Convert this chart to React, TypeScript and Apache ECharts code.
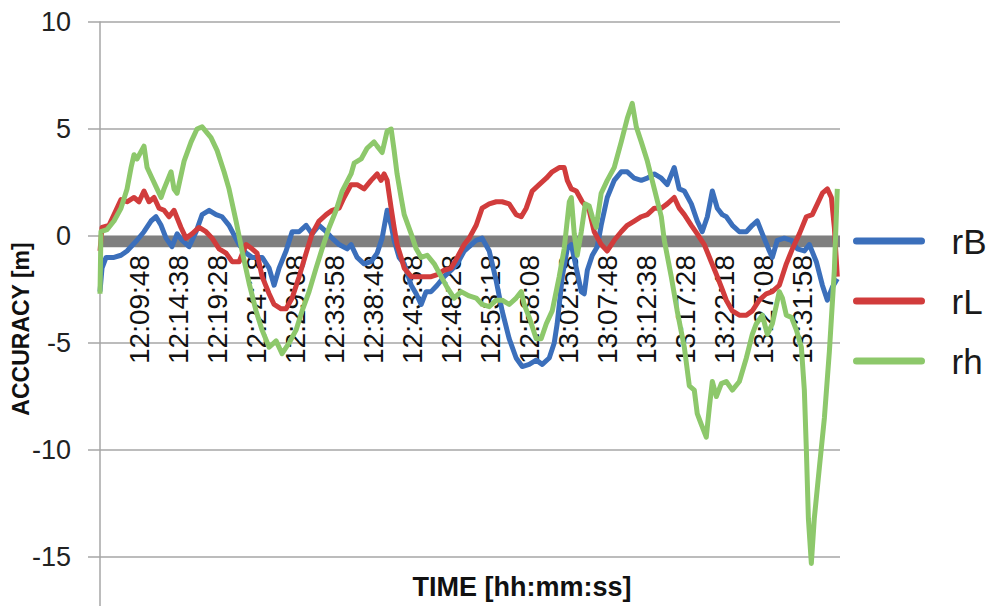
import React, { useEffect, useRef } from "react";
import * as echarts from "echarts";

// time axis: seconds after 12:04:58
const BASE_SECONDS = 12 * 3600 + 4 * 60 + 58;
const TIME_MAX = 5500;
const LABEL_STEP = 290;
const Y_MIN = -20;
const Y_MAX = 10;
const Y_TICKS = [-15, -10, -5, 0, 5, 10];
const SERIES_NAMES = ["rB", "rL", "rh"];
const SERIES_COLORS = ["#3b6fbb", "#d13c3c", "#8dc86b"];
const ZERO_BAND: [number, number] = [0, -0.52];

const rB: [number, number][] = [
  [0, -2.6], [15, -1.5], [45, -1.0], [104, -1.0], [156, -0.9], [201, -0.7], [275, -0.2],
  [327, 0.2], [379, 0.7], [416, 0.9], [454, 0.5], [491, -0.1], [535, -0.5], [573, 0.1],
  [610, -0.2], [662, -0.5], [714, 0.2], [759, 1.0], [811, 1.2], [863, 1.0], [907, 0.9],
  [959, 0.5], [1034, -0.4], [1086, -0.8], [1130, -1.0], [1205, -1.0], [1257, -1.5],
  [1294, -2.3], [1331, -1.5], [1383, -0.7], [1428, 0.2], [1480, 0.2], [1532, 0.5],
  [1576, 0.1], [1628, 0.5], [1681, 0.2], [1725, -0.1], [1777, -0.4], [1837, -0.6],
  [1866, -0.4], [1911, -1.0], [1963, -1.3], [2015, -1.2], [2060, -0.8], [2097, -0.1],
  [2134, 1.2], [2164, 0.5], [2186, -0.2], [2223, -1.0], [2261, -1.3], [2313, -2.3],
  [2350, -2.7], [2387, -3.2], [2424, -2.6], [2461, -2.6], [2506, -2.3], [2558, -1.9],
  [2610, -1.6], [2655, -1.3], [2707, -0.7], [2744, -0.5], [2796, -0.2], [2840, -0.1],
  [2893, -0.7], [2945, -2.1], [2989, -3.5], [3041, -4.8], [3093, -5.7], [3138, -6.1],
  [3190, -6.0], [3242, -5.8], [3287, -6.0], [3339, -5.7], [3376, -5.0], [3398, -4.1],
  [3436, -1.9], [3473, -0.6], [3503, -0.4], [3540, -1.5], [3577, -2.6], [3599, -2.7],
  [3622, -1.6], [3659, -0.9], [3696, -0.5], [3725, 0.5], [3770, 1.8], [3822, 2.6],
  [3874, 3.0], [3919, 3.0], [3971, 2.7], [4023, 2.6], [4068, 2.7], [4120, 2.9],
  [4172, 2.7], [4216, 2.4], [4268, 3.2], [4305, 2.2], [4343, 2.1], [4395, 1.5],
  [4439, 0.7], [4476, 0.2], [4514, 0.9], [4551, 2.1], [4588, 1.3], [4625, 1.0],
  [4655, 0.9], [4700, 0.5], [4752, 0.2], [4804, 0.2], [4848, 0.5], [4885, 0.7],
  [4923, 0.1], [4975, -0.7], [4997, -1.0], [5034, -0.2], [5086, -0.1], [5139, -0.2],
  [5183, -0.6], [5235, -0.7], [5272, -0.4], [5324, -1.2], [5369, -2.3], [5406, -3.0],
  [5443, -2.4], [5480, -2.0],
];

const rL: [number, number][] = [
  [0, -0.7], [15, 0.4], [67, 0.5], [119, 1.2], [156, 1.7], [201, 1.6], [253, 1.8],
  [290, 1.6], [327, 2.1], [364, 1.6], [402, 1.8], [439, 1.3], [476, 1.2], [513, 0.9],
  [550, 1.2], [602, 0.4], [639, -0.1], [684, 0.1], [736, 0.4], [788, 0.2], [833, -0.1],
  [885, -0.6], [937, -0.8], [982, -1.2], [1034, -1.2], [1086, -0.4], [1130, -0.6],
  [1167, -0.8], [1205, -1.9], [1257, -2.7], [1294, -3.2], [1346, -3.4], [1383, -3.4],
  [1428, -2.9], [1480, -1.9], [1532, -0.8], [1576, 0.1], [1628, 0.7], [1681, 1.0],
  [1725, 1.2], [1777, 1.3], [1814, 1.8], [1866, 2.4], [1911, 2.4], [1963, 2.2],
  [2015, 2.6], [2060, 2.9], [2089, 2.6], [2112, 2.9], [2134, 2.6], [2164, 1.3],
  [2186, 0.4], [2208, -0.4], [2238, -1.0], [2261, -1.5], [2313, -1.9], [2357, -1.9],
  [2409, -1.9], [2461, -1.9], [2506, -1.8], [2558, -1.6], [2610, -1.5], [2655, -1.0],
  [2707, -0.4], [2744, -0.1], [2796, 0.5], [2840, 1.3], [2893, 1.5], [2945, 1.6],
  [2989, 1.6], [3041, 1.5], [3093, 1.0], [3131, 0.9], [3168, 1.3], [3212, 2.1],
  [3264, 2.4], [3317, 2.7], [3361, 3.0], [3413, 3.2], [3450, 3.2], [3473, 2.6],
  [3503, 2.2], [3540, 2.1], [3584, 1.6], [3636, 1.2], [3673, 0.2], [3725, -0.4],
  [3770, -0.7], [3822, -0.2], [3874, 0.2], [3919, 0.5], [3971, 0.7], [4023, 0.9],
  [4068, 1.0], [4120, 1.3], [4172, 1.3], [4216, 1.5], [4268, 1.8], [4305, 1.3],
  [4343, 1.0], [4395, 0.5], [4439, 0.1], [4491, -0.4], [4543, -1.2], [4588, -1.9],
  [4625, -2.5], [4655, -3.0], [4700, -3.5], [4752, -3.7], [4804, -3.7], [4848, -3.5],
  [4900, -3.0], [4952, -2.7], [4997, -2.6], [5049, -2.3], [5101, -1.3], [5146, -0.6],
  [5198, 0.1], [5250, 0.9], [5294, 1.0], [5332, 1.5], [5369, 2.0], [5406, 2.2],
  [5436, 1.8], [5458, 0.4], [5480, -1.9],
];

const rh: [number, number][] = [
  [0, -2.7], [7, 0.2], [52, 0.3], [104, 0.7], [156, 1.3], [201, 2.2], [231, 3.2],
  [253, 3.8], [275, 3.6], [327, 4.2], [350, 3.2], [387, 2.7], [424, 2.2], [454, 1.8],
  [476, 2.2], [528, 3.0], [550, 2.2], [573, 2.0], [625, 3.5], [677, 4.4], [721, 5.0],
  [759, 5.1], [825, 4.6], [870, 4.0], [922, 3.0], [959, 2.2], [1011, 0.7], [1056, -0.7],
  [1108, -2.2], [1160, -3.5], [1205, -4.4], [1257, -5.2], [1309, -4.9], [1353, -5.5],
  [1405, -5.0], [1457, -4.4], [1502, -3.5], [1554, -2.6], [1606, -1.5], [1651, -0.6],
  [1703, 0.4], [1755, 1.2], [1800, 2.1], [1866, 2.9], [1889, 3.4], [1941, 3.6],
  [1985, 4.1], [2037, 4.4], [2060, 4.2], [2097, 3.9], [2134, 4.9], [2164, 5.0],
  [2186, 4.0], [2208, 2.9], [2238, 1.8], [2261, 1.0], [2313, 0.1], [2350, -0.6],
  [2387, -1.0], [2432, -0.9], [2484, -1.3], [2536, -1.9], [2580, -2.4], [2632, -2.9],
  [2684, -2.6], [2744, -2.8], [2796, -2.9], [2840, -3.2], [2893, -3.3], [2945, -3.0],
  [2989, -3.0], [3041, -3.2], [3093, -2.9], [3131, -2.6], [3153, -3.2], [3190, -3.8],
  [3242, -4.8], [3279, -4.8], [3317, -4.1], [3361, -3.5], [3413, -1.9], [3450, -0.6],
  [3488, 1.6], [3503, 1.8], [3525, 0.1], [3547, -0.9], [3577, 0.2], [3607, 1.5],
  [3636, 1.4], [3659, 0.9], [3688, 0.4], [3725, 2.0], [3770, 2.6], [3822, 3.2],
  [3874, 4.4], [3919, 5.5], [3956, 6.2], [3986, 5.1], [4023, 4.4], [4068, 3.5],
  [4120, 2.2], [4172, 0.9], [4194, -0.2], [4246, -1.9], [4290, -3.5], [4343, -5.2],
  [4380, -7.0], [4417, -7.2], [4439, -8.3], [4469, -8.8], [4506, -9.4], [4529, -8.0],
  [4551, -6.8], [4581, -7.5], [4618, -6.9], [4655, -6.8], [4700, -7.2], [4752, -6.8],
  [4804, -5.7], [4848, -4.6], [4878, -4.1], [4923, -3.7], [4960, -4.6], [4997, -4.1],
  [5049, -2.6], [5072, -2.9], [5101, -3.7], [5139, -3.8], [5176, -4.4], [5213, -5.2],
  [5235, -7.2], [5250, -10.0], [5265, -13.2], [5287, -15.3], [5309, -13.2], [5347, -10.8],
  [5384, -8.5], [5421, -5.4], [5458, -1.6], [5480, 2.2],
];

const SERIES_DATA = [rB, rL, rh];

function formatTime(t: number): string {
  const s = BASE_SECONDS + t;
  const hh = Math.floor(s / 3600);
  const mm = Math.floor((s % 3600) / 60);
  const ss = s % 60;
  const p = (n: number) => (n < 10 ? "0" + n : String(n));
  return `${p(hh)}:${p(mm)}:${p(ss)}`;
}

const FONT = "'Liberation Sans', Arial, sans-serif";

export default function App() {
  const ref = useRef<HTMLDivElement>(null);
  useEffect(() => {
    if (!ref.current) return;
    const chart = echarts.init(ref.current, undefined, { renderer: "svg" });
    const option: any = {
      animation: false,
      backgroundColor: "#ffffff",
      textStyle: { fontFamily: FONT },
      grid: {
        left: 100,
        right: 150,
        top: 22,
        bottom: -58,
        containLabel: false,
        outerBoundsMode: "none",
      },
      legend: {
        data: SERIES_NAMES,
        orient: "vertical",
        left: 853,
        top: 221,
        itemWidth: 65,
        itemHeight: 40,
        itemGap: 20,
        padding: 0,
        selectedMode: false,
        lineStyle: { width: 7, cap: "round" },
        itemStyle: { opacity: 0 },
        textStyle: {
          fontFamily: FONT,
          fontSize: 35,
          color: "#1a1a1a",
          lineHeight: 40,
          padding: [0, 0, 0, 25],
        },
      },
      xAxis: {
        type: "value",
        position: "bottom",
        min: 0,
        max: TIME_MAX,
        interval: LABEL_STEP,
        offset: 0,
        axisLine: { show: false, onZero: false },
        axisTick: { show: false },
        splitLine: { show: false },
        axisLabel: {
          rotate: 90,
          margin: 19,
          fontFamily: FONT,
          fontSize: 28,
          color: "#111111",
          showMinLabel: false,
          showMaxLabel: false,
          formatter: (v: number) => (v > 0 && v % LABEL_STEP === 0 ? formatTime(v) : ""),
        },
      },
      yAxis: {
        type: "value",
        min: Y_MIN,
        max: Y_MAX,
        interval: 5,
        axisLine: { show: true, lineStyle: { color: "#a6a6a6", width: 1.5 } },
        axisTick: { show: true, length: 12, lineStyle: { color: "#a6a6a6", width: 1.5 } },
        splitLine: { show: true, lineStyle: { color: "#a6a6a6", width: 1.5 } },
        axisLabel: {
          margin: 29,
          fontFamily: FONT,
          fontSize: 27,
          color: "#222222",
          formatter: (v: number) => (Y_TICKS.indexOf(v) >= 0 ? String(v) : ""),
        },
      },
      series: SERIES_NAMES.map((name, i) => ({
        name,
        type: "line",
        data: SERIES_DATA[i],
        showSymbol: false,
        symbol: "none",
        color: SERIES_COLORS[i],
        lineStyle: { color: SERIES_COLORS[i], width: 5, join: "round" },
        z: 3 + i,
        markArea:
          i === 0
            ? {
                silent: true,
                itemStyle: { color: "#7f7f7f" },
                data: [[{ yAxis: ZERO_BAND[0] }, { yAxis: ZERO_BAND[1] }]],
              }
            : undefined,
      })),
      graphic: [
        {
          type: "text",
          x: 21,
          y: 329,
          rotation: Math.PI / 2,
          style: {
            text: "ACCURACY [m]",
            fontFamily: FONT,
            fontSize: 23,
            fontWeight: "bold",
            fill: "#111111",
            textAlign: "center",
            textVerticalAlign: "middle",
          },
        },
        {
          type: "text",
          x: 522,
          y: 587,
          style: {
            text: "TIME [hh:mm:ss]",
            fontFamily: FONT,
            fontSize: 27,
            fontWeight: "bold",
            fill: "#111111",
            textAlign: "center",
            textVerticalAlign: "middle",
          },
        },
      ],
    };
    chart.setOption(option);
    // move the time labels up to the zero line, using the y axis scale
    const zeroPx = chart.convertToPixel({ yAxisIndex: 0 }, 0) as number;
    const minPx = chart.convertToPixel({ yAxisIndex: 0 }, Y_MIN) as number;
    if (isFinite(zeroPx) && isFinite(minPx)) {
      chart.setOption({ xAxis: { offset: zeroPx - minPx } });
    }
    return () => chart.dispose();
  }, []);
  return (
    <div
      ref={ref}
      style={{ position: "fixed", left: 0, top: 0, width: 990, height: 606, background: "#fff" }}
    />
  );
}
